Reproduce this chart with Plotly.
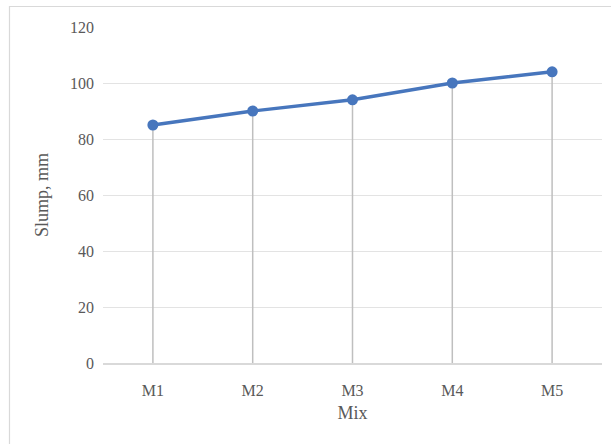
import plotly.graph_objects as go

# Slump test results per mix
mixes = ["M1", "M2", "M3", "M4", "M5"]
slump_mm = [85, 90, 94, 100, 104]
y_ticks = [0, 20, 40, 60, 80, 100, 120]

W, H = 611, 444
L, R, T, B = 103, 9, 27, 81
pw, ph = W - L - R, H - T - B

font_family = "Liberation Serif, Times New Roman, serif"
text_color = "#595959"

fig = go.Figure()

# Drop lines from the axis up to each point
fig.add_trace(go.Scatter(
    x=mixes, y=slump_mm, mode="markers",
    marker=dict(size=0.1, color="rgba(0,0,0,0)"),
    error_y=dict(type="data", symmetric=False, array=[0] * len(slump_mm),
                 arrayminus=slump_mm, color="#bfbfbf", thickness=1.5, width=0),
    hoverinfo="skip", showlegend=False,
))

# Slump line with markers
fig.add_trace(go.Scatter(
    x=mixes, y=slump_mm, mode="lines+markers",
    line=dict(color="#4776bd", width=3.4),
    marker=dict(size=11, color="#4776bd"),
    showlegend=False,
))

# Chart-area border
fig.add_shape(
    type="rect", xref="paper", yref="paper", layer="below",
    x0=(9.5 - L) / pw, x1=(W + 5 - L) / pw,
    y0=-(H + 5 - (T + ph)) / ph, y1=(T + ph - 6.5) / ph,
    line=dict(color="#d9d9d9", width=1.2), fillcolor="rgba(0,0,0,0)",
)

fig.update_layout(
    width=W, height=H,
    margin=dict(l=L, r=R, t=T, b=B, autoexpand=False),
    paper_bgcolor="white", plot_bgcolor="white",
    font=dict(family=font_family, size=16, color=text_color),
    xaxis=dict(
        type="category", range=[-0.5, 4.5],
        showgrid=False, zeroline=False,
        showline=True, linecolor="#d9d9d9", linewidth=1.5,
        ticks="", ticklabelstandoff=12,
        title=dict(text="Mix", font=dict(size=18), standoff=8),
        tickfont=dict(size=16),
    ),
    yaxis=dict(
        range=[0, 120], tickvals=y_ticks,
        showgrid=True, gridcolor="#e3e3e3", gridwidth=1.2,
        zeroline=False, showline=False, ticks="",
        ticklabelstandoff=8,
        title=dict(text="Slump, mm", font=dict(size=18), standoff=16),
        tickfont=dict(size=16),
    ),
)

fig.write_html("out.html")
